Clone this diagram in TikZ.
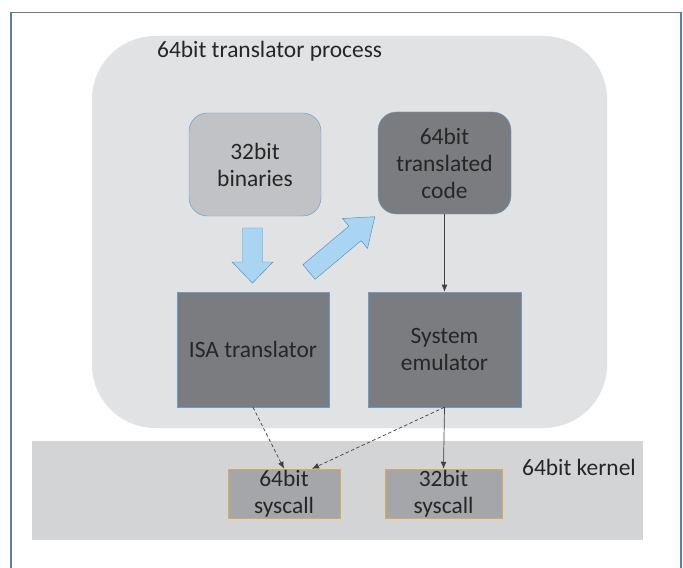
\documentclass[tikz,border=0pt]{standalone}
\usepackage{fontspec}
\setmainfont{Carlito}
\usetikzlibrary{arrows.meta}

\definecolor{frameblue}{HTML}{5B7DA8}
\definecolor{procgray}{HTML}{E1E2E4}
\definecolor{kerngray}{HTML}{D3D4D6}
\definecolor{lightbox}{HTML}{C1C2C5}
\definecolor{darkbox}{HTML}{7B7C80}
\definecolor{callbox}{HTML}{A4A6A9}
\definecolor{boxedge}{HTML}{6A9CCB}
\definecolor{calledge}{HTML}{E2A654}
\definecolor{arrowfill}{HTML}{A9D5F2}
\definecolor{arrowedge}{HTML}{4F93C4}

\begin{document}
\begin{tikzpicture}[x=0.03cm,y=-0.03cm]
\tikzset{block/.style = {draw=boxedge,thin,align=center,text=black!85,inner sep=0pt,
  font=\fontsize{20}{23}\selectfont}}
\tikzset{call/.style = {block,draw=calledge,fill=callbox,minimum height=1.47cm}}
\tikzset{edge/.style = {->,> = {Latex[length=6pt,width=5pt]},draw=black!75,line width=0.6pt}}
\tikzset{fat/.style = {fill=arrowfill,draw=arrowedge,thin}}
\useasboundingbox (0,0) rectangle (683,567);

% frame and backgrounds
\draw[frameblue,line width=1.5pt] (11,580) -- (11,12.5) -- (681,12.5) -- (681,580);
\fill[procgray,rounded corners=1.9cm] (92,36) rectangle (607,428);
\fill[kerngray] (32,441) rectangle (643,540);
\node[anchor=west,font=\fontsize{20}{23}\selectfont,text=black!85] (proc) at (153,51) {64bit translator process};
\node[anchor=west,font=\fontsize{20}{23}\selectfont,text=black!85] (kern) at (518,467) {64bit kernel};

% boxes
\node[block,fill=lightbox,rounded corners=0.55cm,minimum width=3.96cm,minimum height=3.09cm] (bin) at (255,164.5) {32bit\\binaries};
\node[block,fill=darkbox,rounded corners=0.55cm,minimum width=3.99cm,minimum height=3.06cm] (code) at (444.5,163) {64bit\\translated\\code};
\node[block,fill=darkbox,minimum width=4.56cm,minimum height=3.45cm] (isa) at (253,349.5) {ISA translator};
\node[block,fill=darkbox,minimum width=4.59cm,minimum height=3.45cm] (emu) at (444.5,349.5) {System\\emulator};
\node[call,minimum width=3.36cm] (sys64) at (284,493.5) {64bit\\syscall};
\node[call,minimum width=3.51cm] (sys32) at (443.5,493.5) {32bit\\syscall};

% block arrows
\begin{scope}[shift={(252.5,228)},rotate=-90]
\draw[fat] (0,-10) -- (34,-10) -- (34,-20.5) -- (55,0) -- (34,20.5) -- (34,10) -- (0,10) -- cycle;
\end{scope}
\begin{scope}[shift={(309,272)},rotate=40]
\draw[fat] (0,-9.5) -- (60,-9.5) -- (60,-19.5) -- (86,0) -- (60,19.5) -- (60,9.5) -- (0,9.5) -- cycle;
\end{scope}

% connectors
\draw[edge] (code) to (emu);
\draw[edge] (emu.south) to (sys32.north);
\draw[edge,densely dashed] (isa.south) to (sys64.north);
\draw[edge,densely dashed] (emu.south) to ([xshift=0.84cm]sys64.north);
\end{tikzpicture}
\end{document}
